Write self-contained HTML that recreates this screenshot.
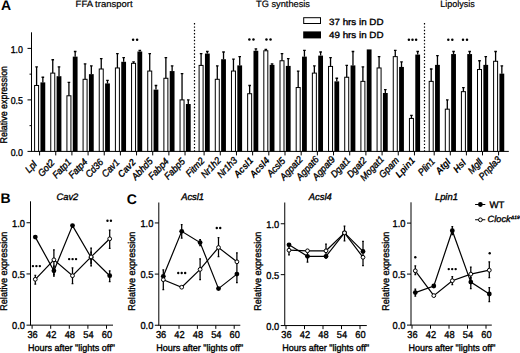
<!DOCTYPE html>
<html><head><meta charset="utf-8"><style>
html,body{margin:0;padding:0;background:#fff;width:520px;height:353px;overflow:hidden}
text{font-family:"Liberation Sans", sans-serif;stroke:#000;stroke-width:0.35px;text-rendering:geometricPrecision}
text.nb{stroke-width:0}
text.lt{stroke-width:0.2px}
text.bl{stroke-width:0.1px}
</style></head><body>
<svg xmlns="http://www.w3.org/2000/svg" width="520" height="353" viewBox="0 0 520 353" style="display:block">
<rect width="520" height="353" fill="#fff"/>
<g font-family='"Liberation Sans", sans-serif' fill="#000">
<text x="1" y="10.2" font-size="14" font-weight="bold" class="nb">A</text>
<text x="75.6" y="6.5" font-size="9.2" textLength="57" lengthAdjust="spacingAndGlyphs" class="lt">FFA transport</text>
<text x="256" y="6.5" font-size="9.2" textLength="54" lengthAdjust="spacingAndGlyphs" class="lt">TG synthesis</text>
<text x="440.2" y="6.5" font-size="9.2" textLength="34.5" lengthAdjust="spacingAndGlyphs" class="lt">Lipolysis</text>
<rect x="303.7" y="17.7" width="16.8" height="5.8" fill="#fff" stroke="#000" stroke-width="1"/>
<rect x="303.2" y="31.4" width="17.8" height="7" fill="#000"/>
<text x="329" y="24.6" font-size="9" textLength="54.5" lengthAdjust="spacingAndGlyphs">37 hrs in DD</text>
<text x="329" y="38.4" font-size="9" textLength="54.5" lengthAdjust="spacingAndGlyphs">49 hrs in DD</text>
<text transform="translate(6.5,104.7) rotate(-90)" text-anchor="middle" font-size="9.8" textLength="77.5" lengthAdjust="spacingAndGlyphs">Relative expression</text>
<text x="23" y="52.8" text-anchor="end" font-size="9.9" textLength="12.3" lengthAdjust="spacingAndGlyphs">1.0</text>
<text x="23" y="104.3" text-anchor="end" font-size="9.9" textLength="12.3" lengthAdjust="spacingAndGlyphs">0.5</text>
<text x="23" y="155.8" text-anchor="end" font-size="9.9" textLength="12.3" lengthAdjust="spacingAndGlyphs">0.0</text>
</g>
<g stroke="#000" stroke-width="1" fill="none">
<path d="M31.5 32.3V151.4"/>
<path d="M31 151.4H508.8"/>
<path d="M27.5 48.4H31.5"/>
<path d="M27.5 99.9H31.5"/>
<path d="M27.5 151.4H31.5"/>
<path d="M29.5 74.15H31.5"/>
<path d="M29.5 125.65H31.5"/>
<path d="M39.6 151.4V155.4"/>
<path d="M55.76 151.4V155.4"/>
<path d="M71.92 151.4V155.4"/>
<path d="M88.08 151.4V155.4"/>
<path d="M104.24 151.4V155.4"/>
<path d="M120.4 151.4V155.4"/>
<path d="M136.56 151.4V155.4"/>
<path d="M152.72 151.4V155.4"/>
<path d="M168.88 151.4V155.4"/>
<path d="M185.04 151.4V155.4"/>
<path d="M204.1 151.4V155.4"/>
<path d="M220.28 151.4V155.4"/>
<path d="M236.46 151.4V155.4"/>
<path d="M252.64 151.4V155.4"/>
<path d="M268.82 151.4V155.4"/>
<path d="M285 151.4V155.4"/>
<path d="M301.18 151.4V155.4"/>
<path d="M317.36 151.4V155.4"/>
<path d="M333.54 151.4V155.4"/>
<path d="M349.72 151.4V155.4"/>
<path d="M365.9 151.4V155.4"/>
<path d="M382.08 151.4V155.4"/>
<path d="M398.26 151.4V155.4"/>
<path d="M414.44 151.4V155.4"/>
<path d="M434.2 151.4V155.4"/>
<path d="M450.3 151.4V155.4"/>
<path d="M466.4 151.4V155.4"/>
<path d="M482.5 151.4V155.4"/>
<path d="M498.6 151.4V155.4"/>
</g>
<g stroke="#000" stroke-width="1.2" stroke-dasharray="1.45 1.9">
<path d="M194.5 23.05V151.4"/>
<path d="M424.5 23.05V151.4"/>
</g>
<g stroke="#000" stroke-width="1">
<rect x="34.6" y="85.48" width="4.0" height="65.92" fill="#fff"/>
<path d="M36.6 85.48V66.94M35.3 66.94H37.9" fill="none" stroke-width="1.3"/>
<rect x="40.45" y="82.39" width="4.8" height="69.01" fill="#000" stroke="none"/>
<path d="M42.85 82.39V77.24M41.55 77.24H44.15" fill="none" stroke-width="1.3"/>
<rect x="50.76" y="73.12" width="4.0" height="78.28" fill="#fff"/>
<path d="M52.76 73.12V59.73M51.46 59.73H54.06" fill="none" stroke-width="1.3"/>
<rect x="56.61" y="76.21" width="4.8" height="75.19" fill="#000" stroke="none"/>
<path d="M59.01 76.21V66.94M57.71 66.94H60.31" fill="none" stroke-width="1.3"/>
<rect x="66.92" y="95.78" width="4.0" height="55.62" fill="#fff"/>
<path d="M68.92 95.78V82.39M67.62 82.39H70.22" fill="none" stroke-width="1.3"/>
<rect x="72.77" y="56.64" width="4.8" height="94.76" fill="#000" stroke="none"/>
<path d="M75.17 56.64V51.49M73.87 51.49H76.47" fill="none" stroke-width="1.3"/>
<rect x="83.08" y="79.3" width="4.0" height="72.1" fill="#fff"/>
<path d="M85.08 79.3V63.85M83.78 63.85H86.38" fill="none" stroke-width="1.3"/>
<rect x="88.93" y="74.15" width="4.8" height="77.25" fill="#000" stroke="none"/>
<path d="M91.33 74.15V65.91M90.03 65.91H92.63" fill="none" stroke-width="1.3"/>
<rect x="99.24" y="69" width="4.0" height="82.4" fill="#fff"/>
<path d="M101.24 69V58.7M99.94 58.7H102.54" fill="none" stroke-width="1.3"/>
<rect x="105.09" y="83.42" width="4.8" height="67.98" fill="#000" stroke="none"/>
<path d="M107.49 83.42V80.33M106.19 80.33H108.79" fill="none" stroke-width="1.3"/>
<rect x="115.4" y="67.97" width="4.0" height="83.43" fill="#fff"/>
<path d="M117.4 67.97V53.55M116.1 53.55H118.7" fill="none" stroke-width="1.3"/>
<rect x="121.25" y="61.79" width="4.8" height="89.61" fill="#000" stroke="none"/>
<path d="M123.65 61.79V57.67M122.35 57.67H124.95" fill="none" stroke-width="1.3"/>
<rect x="131.56" y="63.34" width="4.0" height="88.06" fill="#fff"/>
<path d="M133.56 63.34V61.79M132.26 61.79H134.86" fill="none" stroke-width="1.3"/>
<rect x="137.41" y="51.49" width="4.8" height="99.91" fill="#000" stroke="none"/>
<path d="M139.81 51.49V50.46M138.51 50.46H141.11" fill="none" stroke-width="1.3"/>
<rect x="147.72" y="71.06" width="4.0" height="80.34" fill="#fff"/>
<path d="M149.72 71.06V53.55M148.42 53.55H151.02" fill="none" stroke-width="1.3"/>
<rect x="153.57" y="89.6" width="4.8" height="61.8" fill="#000" stroke="none"/>
<path d="M155.97 89.6V85.48M154.67 85.48H157.27" fill="none" stroke-width="1.3"/>
<rect x="163.88" y="78.27" width="4.0" height="73.13" fill="#fff"/>
<path d="M165.88 78.27V57.67M164.58 57.67H167.18" fill="none" stroke-width="1.3"/>
<rect x="169.73" y="71.06" width="4.8" height="80.34" fill="#000" stroke="none"/>
<path d="M172.13 71.06V65.91M170.83 65.91H173.43" fill="none" stroke-width="1.3"/>
<rect x="180.04" y="99.9" width="4.0" height="51.5" fill="#fff"/>
<path d="M182.04 99.9V73.64M180.74 73.64H183.34" fill="none" stroke-width="1.3"/>
<rect x="185.89" y="104.02" width="4.8" height="47.38" fill="#000" stroke="none"/>
<path d="M188.29 104.02V99.9M186.99 99.9H189.59" fill="none" stroke-width="1.3"/>
<rect x="199.1" y="65.4" width="4.0" height="86" fill="#fff"/>
<path d="M201.1 65.4V53.55M199.8 53.55H202.4" fill="none" stroke-width="1.3"/>
<rect x="204.95" y="53.55" width="4.8" height="97.85" fill="#000" stroke="none"/>
<path d="M207.35 53.55V51.49M206.05 51.49H208.65" fill="none" stroke-width="1.3"/>
<rect x="215.28" y="79.3" width="4.0" height="72.1" fill="#fff"/>
<path d="M217.28 79.3V65.91M215.98 65.91H218.58" fill="none" stroke-width="1.3"/>
<rect x="221.13" y="59.22" width="4.8" height="92.19" fill="#000" stroke="none"/>
<path d="M223.53 59.22V52.01M222.23 52.01H224.83" fill="none" stroke-width="1.3"/>
<rect x="231.46" y="71.06" width="4.0" height="80.34" fill="#fff"/>
<path d="M233.46 71.06V59.22M232.16 59.22H234.76" fill="none" stroke-width="1.3"/>
<rect x="237.31" y="65.4" width="4.8" height="86" fill="#000" stroke="none"/>
<path d="M239.71 65.4V56.64M238.41 56.64H241.01" fill="none" stroke-width="1.3"/>
<rect x="247.64" y="93.72" width="4.0" height="57.68" fill="#fff"/>
<path d="M249.64 93.72V85.48M248.34 85.48H250.94" fill="none" stroke-width="1.3"/>
<rect x="253.49" y="50.77" width="4.8" height="100.63" fill="#000" stroke="none"/>
<path d="M255.89 50.77V48.92M254.59 48.92H257.19" fill="none" stroke-width="1.3"/>
<rect x="263.82" y="50.77" width="4.0" height="100.63" fill="#fff"/>
<path d="M265.82 50.77V49.43M264.52 49.43H267.12" fill="none" stroke-width="1.3"/>
<rect x="269.67" y="64.88" width="4.8" height="86.52" fill="#000" stroke="none"/>
<path d="M272.07 64.88V63.85M270.77 63.85H273.37" fill="none" stroke-width="1.3"/>
<rect x="280" y="60.76" width="4.0" height="90.64" fill="#fff"/>
<path d="M282 60.76V53.55M280.7 53.55H283.3" fill="none" stroke-width="1.3"/>
<rect x="285.85" y="65.91" width="4.8" height="85.49" fill="#000" stroke="none"/>
<path d="M288.25 65.91V58.7M286.95 58.7H289.55" fill="none" stroke-width="1.3"/>
<rect x="296.18" y="87.54" width="4.0" height="63.86" fill="#fff"/>
<path d="M298.18 87.54V71.06M296.88 71.06H299.48" fill="none" stroke-width="1.3"/>
<rect x="302.03" y="56.64" width="4.8" height="94.76" fill="#000" stroke="none"/>
<path d="M304.43 56.64V50.46M303.13 50.46H305.73" fill="none" stroke-width="1.3"/>
<rect x="312.36" y="73.12" width="4.0" height="78.28" fill="#fff"/>
<path d="M314.36 73.12V65.91M313.06 65.91H315.66" fill="none" stroke-width="1.3"/>
<rect x="318.21" y="55.61" width="4.8" height="95.79" fill="#000" stroke="none"/>
<path d="M320.61 55.61V52.01M319.31 52.01H321.91" fill="none" stroke-width="1.3"/>
<rect x="328.54" y="66.43" width="4.0" height="84.97" fill="#fff"/>
<path d="M330.54 66.43V57.67M329.24 57.67H331.84" fill="none" stroke-width="1.3"/>
<rect x="334.39" y="81.36" width="4.8" height="70.04" fill="#000" stroke="none"/>
<path d="M336.79 81.36V78.27M335.49 78.27H338.09" fill="none" stroke-width="1.3"/>
<rect x="344.72" y="77.24" width="4.0" height="74.16" fill="#fff"/>
<path d="M346.72 77.24V65.4M345.42 65.4H348.02" fill="none" stroke-width="1.3"/>
<rect x="350.57" y="65.4" width="4.8" height="86" fill="#000" stroke="none"/>
<path d="M352.97 65.4V51.49M351.67 51.49H354.27" fill="none" stroke-width="1.3"/>
<rect x="360.9" y="81.36" width="4.0" height="70.04" fill="#fff"/>
<path d="M362.9 81.36V66.94M361.6 66.94H364.2" fill="none" stroke-width="1.3"/>
<rect x="366.75" y="49.43" width="4.8" height="101.97" fill="#000" stroke="none"/>
<rect x="377.08" y="67.97" width="4.0" height="83.43" fill="#fff"/>
<path d="M379.08 67.97V56.64M377.78 56.64H380.38" fill="none" stroke-width="1.3"/>
<rect x="382.93" y="93" width="4.8" height="58.4" fill="#000" stroke="none"/>
<path d="M385.33 93V89.6M384.03 89.6H386.63" fill="none" stroke-width="1.3"/>
<rect x="393.26" y="56.64" width="4.0" height="94.76" fill="#fff"/>
<path d="M395.26 56.64V50.46M393.96 50.46H396.56" fill="none" stroke-width="1.3"/>
<rect x="399.11" y="66.94" width="4.8" height="84.46" fill="#000" stroke="none"/>
<path d="M401.51 66.94V61.79M400.21 61.79H402.81" fill="none" stroke-width="1.3"/>
<rect x="409.44" y="118.44" width="4.0" height="32.96" fill="#fff"/>
<path d="M411.44 118.44V115.35M410.14 115.35H412.74" fill="none" stroke-width="1.3"/>
<rect x="415.29" y="54.58" width="4.8" height="96.82" fill="#000" stroke="none"/>
<path d="M417.69 54.58V51.49M416.39 51.49H418.99" fill="none" stroke-width="1.3"/>
<rect x="429.2" y="81.36" width="4.0" height="70.04" fill="#fff"/>
<path d="M431.2 81.36V69M429.9 69H432.5" fill="none" stroke-width="1.3"/>
<rect x="435.05" y="64.88" width="4.8" height="86.52" fill="#000" stroke="none"/>
<path d="M437.45 64.88V55.61M436.15 55.61H438.75" fill="none" stroke-width="1.3"/>
<rect x="445.3" y="109.17" width="4.0" height="42.23" fill="#fff"/>
<path d="M447.3 109.17V99.9M446 99.9H448.6" fill="none" stroke-width="1.3"/>
<rect x="451.15" y="54.07" width="4.8" height="97.33" fill="#000" stroke="none"/>
<path d="M453.55 54.07V51.49M452.25 51.49H454.85" fill="none" stroke-width="1.3"/>
<rect x="461.4" y="91.66" width="4.0" height="59.74" fill="#fff"/>
<path d="M463.4 91.66V87.54M462.1 87.54H464.7" fill="none" stroke-width="1.3"/>
<rect x="467.25" y="54.07" width="4.8" height="97.33" fill="#000" stroke="none"/>
<path d="M469.65 54.07V51.49M468.35 51.49H470.95" fill="none" stroke-width="1.3"/>
<rect x="477.5" y="69.52" width="4.0" height="81.89" fill="#fff"/>
<path d="M479.5 69.52V60.76M478.2 60.76H480.8" fill="none" stroke-width="1.3"/>
<rect x="483.35" y="64.88" width="4.8" height="86.52" fill="#000" stroke="none"/>
<path d="M485.75 64.88V56.64M484.45 56.64H487.05" fill="none" stroke-width="1.3"/>
<rect x="493.6" y="61.28" width="4.0" height="90.12" fill="#fff"/>
<path d="M495.6 61.28V51.49M494.3 51.49H496.9" fill="none" stroke-width="1.3"/>
<rect x="499.45" y="73.64" width="4.8" height="77.77" fill="#000" stroke="none"/>
<path d="M501.85 73.64V65.91M500.55 65.91H503.15" fill="none" stroke-width="1.3"/>
</g>
<g fill="#000">
<circle cx="133.1" cy="39.7" r="1.25"/><circle cx="137.1" cy="39.7" r="1.25"/>
<circle cx="249.35" cy="39.6" r="1.25"/><circle cx="253.45" cy="39.6" r="1.25"/>
<circle cx="266.45" cy="39.6" r="1.25"/><circle cx="270.55" cy="39.6" r="1.25"/>
<circle cx="408.9" cy="39.7" r="1.25"/><circle cx="412.5" cy="39.7" r="1.25"/><circle cx="416.1" cy="39.7" r="1.25"/>
<circle cx="448.3" cy="39.7" r="1.25"/><circle cx="452.3" cy="39.7" r="1.25"/>
<circle cx="463" cy="39.7" r="1.25"/><circle cx="467" cy="39.7" r="1.25"/>
</g>
<g font-family='"Liberation Sans", sans-serif' font-style="italic" font-size="9.7">
<text text-anchor="end" transform="translate(37.39,164.78) rotate(-47) scale(0.92,1)">Lpl</text>
<text text-anchor="end" transform="translate(55.07,163.15) rotate(-47) scale(0.92,1)">Got2</text>
<text text-anchor="end" transform="translate(71.94,162.38) rotate(-47) scale(0.92,1)">Fatp1</text>
<text text-anchor="end" transform="translate(88.1,162.38) rotate(-47) scale(0.92,1)">Fatp4</text>
<text text-anchor="end" transform="translate(103.96,162.71) rotate(-47) scale(0.92,1)">Cd36</text>
<text text-anchor="end" transform="translate(120.02,162.82) rotate(-47) scale(0.92,1)">Cav1</text>
<text text-anchor="end" transform="translate(136.28,162.71) rotate(-47) scale(0.92,1)" font-weight="bold" class="bl">Cav2</text>
<text text-anchor="end" transform="translate(153.35,161.73) rotate(-47) scale(0.92,1)">Abhd5</text>
<text text-anchor="end" transform="translate(169.41,161.84) rotate(-47) scale(0.92,1)">Fabp4</text>
<text text-anchor="end" transform="translate(185.57,161.84) rotate(-47) scale(0.92,1)">Fabp5</text>
<text text-anchor="end" transform="translate(205.02,161.3) rotate(-47) scale(0.92,1)">Fitm2</text>
<text text-anchor="end" transform="translate(221.61,160.86) rotate(-47) scale(0.92,1)">Nr1h2</text>
<text text-anchor="end" transform="translate(237.79,160.86) rotate(-47) scale(0.92,1)">Nr1h3</text>
<text text-anchor="end" transform="translate(253.87,160.97) rotate(-47) scale(0.92,1)" font-weight="bold" class="bl">Acsl1</text>
<text text-anchor="end" transform="translate(270.05,160.97) rotate(-47) scale(0.92,1)" font-weight="bold" class="bl">Acsl4</text>
<text text-anchor="end" transform="translate(285.82,161.4) rotate(-47) scale(0.92,1)">Acsl5</text>
<text text-anchor="end" transform="translate(303.32,159.98) rotate(-47) scale(0.92,1)">Agpat2</text>
<text text-anchor="end" transform="translate(319.5,159.98) rotate(-47) scale(0.92,1)">Agpat6</text>
<text text-anchor="end" transform="translate(335.68,159.98) rotate(-47) scale(0.92,1)">Agpat9</text>
<text text-anchor="end" transform="translate(350.95,160.97) rotate(-47) scale(0.92,1)">Dgat1</text>
<text text-anchor="end" transform="translate(367.13,160.97) rotate(-47) scale(0.92,1)">Dgat2</text>
<text text-anchor="end" transform="translate(384.52,159.66) rotate(-47) scale(0.92,1)">Mogat1</text>
<text text-anchor="end" transform="translate(399.58,160.86) rotate(-47) scale(0.92,1)">Gpam</text>
<text text-anchor="end" transform="translate(415.66,160.97) rotate(-47) scale(0.92,1)" font-weight="bold" class="bl">Lpin1</text>
<text text-anchor="end" transform="translate(435.61,161.84) rotate(-47) scale(0.92,1)">Plin1</text>
<text text-anchor="end" transform="translate(451.2,162.38) rotate(-47) scale(0.92,1)" font-weight="bold" class="bl">Atgl</text>
<text text-anchor="end" transform="translate(466.59,163.14) rotate(-47) scale(0.92,1)" font-weight="bold" class="bl">Hsl</text>
<text text-anchor="end" transform="translate(483.2,162.6) rotate(-47) scale(0.92,1)">Mgll</text>
<text text-anchor="end" transform="translate(501.64,160.09) rotate(-47) scale(0.92,1)">Pnpla3</text>
</g>
<g stroke="#000" stroke-width="1" fill="none">
<path d="M30.5 201.3V325.15"/>
<path d="M30 325.15H113"/>
<path d="M26.5 222.75H30.5"/>
<path d="M26.5 273.95H30.5"/>
<path d="M26.5 325.15H30.5"/>
<path d="M32.1 325.15V328.75"/>
<path d="M50.7 325.15V328.75"/>
<path d="M69.3 325.15V328.75"/>
<path d="M87.9 325.15V328.75"/>
<path d="M106.5 325.15V328.75"/>
</g>
<g font-family='"Liberation Sans", sans-serif' fill="#000">
<text x="25" y="226.75" text-anchor="end" font-size="10" textLength="12.9" lengthAdjust="spacingAndGlyphs">1.0</text>
<text x="25" y="277.95" text-anchor="end" font-size="10" textLength="12.9" lengthAdjust="spacingAndGlyphs">0.5</text>
<text x="25" y="329.15" text-anchor="end" font-size="10" textLength="12.9" lengthAdjust="spacingAndGlyphs">0.0</text>
<text x="32.6" y="337.6" text-anchor="middle" font-size="10" textLength="10.3" lengthAdjust="spacingAndGlyphs">36</text>
<text x="51.2" y="337.6" text-anchor="middle" font-size="10" textLength="10.3" lengthAdjust="spacingAndGlyphs">42</text>
<text x="69.8" y="337.6" text-anchor="middle" font-size="10" textLength="10.3" lengthAdjust="spacingAndGlyphs">48</text>
<text x="88.4" y="337.6" text-anchor="middle" font-size="10" textLength="10.3" lengthAdjust="spacingAndGlyphs">54</text>
<text x="107" y="337.6" text-anchor="middle" font-size="10" textLength="10.3" lengthAdjust="spacingAndGlyphs">60</text>
<text x="27.9" y="350.6" font-size="9.4" textLength="87" lengthAdjust="spacingAndGlyphs">Hours after "lights off"</text>
<text transform="translate(7.1,271.2) rotate(-90)" text-anchor="middle" font-size="9.8" textLength="79" lengthAdjust="spacingAndGlyphs">Relative expression</text>
<text x="67.4" y="199.7" text-anchor="middle" font-size="9.4" font-style="italic">Cav2</text>
</g>
<g stroke="#000" stroke-width="1.25" fill="none">
<path d="M35.3 275.3V284M34.4 275.3H36.2M34.4 284H36.2"/>
<path d="M53.9 249.9V274.7M53 249.9H54.8M53 274.7H54.8"/>
<path d="M53.9 266V276M53 266H54.8M53 276H54.8"/>
<path d="M72.5 267.8V283.7M71.6 267.8H73.4M71.6 283.7H73.4"/>
<path d="M91.1 248V265.8M90.2 248H92M90.2 265.8H92"/>
<path d="M91.1 252V263M90.2 252H92M90.2 263H92"/>
<path d="M109.7 270.8V281.7M108.8 270.8H110.6M108.8 281.7H110.6"/>
<path d="M109.7 230.1V248.4M108.8 230.1H110.6M108.8 248.4H110.6"/>
</g>
<g stroke="#000" stroke-width="1.2" fill="none">
<polyline points="35.3,237.1 53.9,270.8 72.5,225.6 91.1,257.5 109.7,275.7"/>
<polyline points="35.3,279.3 53.9,259.8 72.5,275.7 91.1,256.9 109.7,238.8"/>
</g>
<g>
<circle cx="35.3" cy="237.1" r="2.4" fill="#000"/>
<circle cx="53.9" cy="270.8" r="2.4" fill="#000"/>
<circle cx="72.5" cy="225.6" r="2.4" fill="#000"/>
<circle cx="91.1" cy="257.5" r="2.4" fill="#000"/>
<circle cx="109.7" cy="275.7" r="2.4" fill="#000"/>
<circle cx="35.3" cy="279.3" r="1.9" fill="#fff" stroke="#000" stroke-width="1"/>
<circle cx="53.9" cy="259.8" r="1.9" fill="#fff" stroke="#000" stroke-width="1"/>
<circle cx="72.5" cy="275.7" r="1.9" fill="#fff" stroke="#000" stroke-width="1"/>
<circle cx="91.1" cy="256.9" r="1.9" fill="#fff" stroke="#000" stroke-width="1"/>
<circle cx="109.7" cy="238.8" r="1.9" fill="#fff" stroke="#000" stroke-width="1"/>
</g>
<g fill="#000">
<circle cx="32.95" cy="266.1" r="1.2"/><circle cx="36.4" cy="266.1" r="1.2"/><circle cx="39.85" cy="266.1" r="1.2"/>
<circle cx="69.15" cy="259.1" r="1.2"/><circle cx="72.6" cy="259.1" r="1.2"/><circle cx="76.05" cy="259.1" r="1.2"/>
<circle cx="107.48" cy="220.7" r="1.2"/><circle cx="110.93" cy="220.7" r="1.2"/>
</g>
<g stroke="#000" stroke-width="1" fill="none">
<path d="M158.8 202.5V325.25"/>
<path d="M158.3 325.25H240.3"/>
<path d="M154.8 222.95H158.8"/>
<path d="M154.8 274.1H158.8"/>
<path d="M154.8 325.25H158.8"/>
<path d="M160.6 325.25V328.85"/>
<path d="M179 325.25V328.85"/>
<path d="M197.4 325.25V328.85"/>
<path d="M215.8 325.25V328.85"/>
<path d="M234.2 325.25V328.85"/>
</g>
<g font-family='"Liberation Sans", sans-serif' fill="#000">
<text x="153.3" y="226.95" text-anchor="end" font-size="10" textLength="12.9" lengthAdjust="spacingAndGlyphs">1.0</text>
<text x="153.3" y="278.1" text-anchor="end" font-size="10" textLength="12.9" lengthAdjust="spacingAndGlyphs">0.5</text>
<text x="153.3" y="329.25" text-anchor="end" font-size="10" textLength="12.9" lengthAdjust="spacingAndGlyphs">0.0</text>
<text x="161.1" y="337.6" text-anchor="middle" font-size="10" textLength="10.3" lengthAdjust="spacingAndGlyphs">36</text>
<text x="179.5" y="337.6" text-anchor="middle" font-size="10" textLength="10.3" lengthAdjust="spacingAndGlyphs">42</text>
<text x="197.9" y="337.6" text-anchor="middle" font-size="10" textLength="10.3" lengthAdjust="spacingAndGlyphs">48</text>
<text x="216.3" y="337.6" text-anchor="middle" font-size="10" textLength="10.3" lengthAdjust="spacingAndGlyphs">54</text>
<text x="234.7" y="337.6" text-anchor="middle" font-size="10" textLength="10.3" lengthAdjust="spacingAndGlyphs">60</text>
<text x="156.2" y="350.6" font-size="9.4" textLength="87" lengthAdjust="spacingAndGlyphs">Hours after "lights off"</text>
<text transform="translate(134.6,271.2) rotate(-90)" text-anchor="middle" font-size="9.8" textLength="79" lengthAdjust="spacingAndGlyphs">Relative expression</text>
<text x="192.6" y="199.7" text-anchor="middle" font-size="9.4" font-style="italic">Acsl1</text>
</g>
<g stroke="#000" stroke-width="1.25" fill="none">
<path d="M163.3 269.8V289.6M162.4 269.8H164.2M162.4 289.6H164.2"/>
<path d="M181.7 224.7V238M180.8 224.7H182.6M180.8 238H182.6"/>
<path d="M200.1 258.8V279.7M199.2 258.8H201M199.2 279.7H201"/>
<path d="M200.1 239.5V245.5M199.2 239.5H201M199.2 245.5H201"/>
<path d="M218.5 237.6V256.5M217.6 237.6H219.4M217.6 256.5H219.4"/>
<path d="M236.9 252.9V282.7M236 252.9H237.8M236 282.7H237.8"/>
</g>
<g stroke="#000" stroke-width="1.2" fill="none">
<polyline points="163.3,276.3 181.7,231.3 200.1,242.6 218.5,288.6 236.9,274.1"/>
<polyline points="163.3,279.7 181.7,287.2 200.1,269.4 218.5,247.5 236.9,261.8"/>
</g>
<g>
<circle cx="163.3" cy="276.3" r="2.4" fill="#000"/>
<circle cx="181.7" cy="231.3" r="2.4" fill="#000"/>
<circle cx="200.1" cy="242.6" r="2.4" fill="#000"/>
<circle cx="218.5" cy="288.6" r="2.4" fill="#000"/>
<circle cx="236.9" cy="274.1" r="2.4" fill="#000"/>
<circle cx="163.3" cy="279.7" r="1.9" fill="#fff" stroke="#000" stroke-width="1"/>
<circle cx="181.7" cy="287.2" r="1.9" fill="#fff" stroke="#000" stroke-width="1"/>
<circle cx="200.1" cy="269.4" r="1.9" fill="#fff" stroke="#000" stroke-width="1"/>
<circle cx="218.5" cy="247.5" r="1.9" fill="#fff" stroke="#000" stroke-width="1"/>
<circle cx="236.9" cy="261.8" r="1.9" fill="#fff" stroke="#000" stroke-width="1"/>
</g>
<g fill="#000">
<circle cx="178.25" cy="273" r="1.2"/><circle cx="181.7" cy="273" r="1.2"/><circle cx="185.15" cy="273" r="1.2"/>
<circle cx="216.78" cy="228" r="1.2"/><circle cx="220.22" cy="228" r="1.2"/>
</g>
<g stroke="#000" stroke-width="1" fill="none">
<path d="M284.75 202.5V325.55"/>
<path d="M284.25 325.55H366.8"/>
<path d="M280.75 223.75H284.75"/>
<path d="M280.75 274.65H284.75"/>
<path d="M280.75 325.55H284.75"/>
<path d="M286 325.55V329.15"/>
<path d="M304.5 325.55V329.15"/>
<path d="M323 325.55V329.15"/>
<path d="M341.5 325.55V329.15"/>
<path d="M360 325.55V329.15"/>
</g>
<g font-family='"Liberation Sans", sans-serif' fill="#000">
<text x="279.25" y="227.75" text-anchor="end" font-size="10" textLength="12.9" lengthAdjust="spacingAndGlyphs">1.0</text>
<text x="279.25" y="278.65" text-anchor="end" font-size="10" textLength="12.9" lengthAdjust="spacingAndGlyphs">0.5</text>
<text x="279.25" y="329.55" text-anchor="end" font-size="10" textLength="12.9" lengthAdjust="spacingAndGlyphs">0.0</text>
<text x="286.5" y="337.6" text-anchor="middle" font-size="10" textLength="10.3" lengthAdjust="spacingAndGlyphs">36</text>
<text x="305" y="337.6" text-anchor="middle" font-size="10" textLength="10.3" lengthAdjust="spacingAndGlyphs">42</text>
<text x="323.5" y="337.6" text-anchor="middle" font-size="10" textLength="10.3" lengthAdjust="spacingAndGlyphs">48</text>
<text x="342" y="337.6" text-anchor="middle" font-size="10" textLength="10.3" lengthAdjust="spacingAndGlyphs">54</text>
<text x="360.5" y="337.6" text-anchor="middle" font-size="10" textLength="10.3" lengthAdjust="spacingAndGlyphs">60</text>
<text x="282.15" y="350.6" font-size="9.4" textLength="87" lengthAdjust="spacingAndGlyphs">Hours after "lights off"</text>
<text transform="translate(261.4,271.2) rotate(-90)" text-anchor="middle" font-size="9.8" textLength="79" lengthAdjust="spacingAndGlyphs">Relative expression</text>
<text x="320.3" y="199.7" text-anchor="middle" font-size="9.4" font-style="italic">Acsl4</text>
</g>
<g stroke="#000" stroke-width="1.25" fill="none">
<path d="M289 247.8V254.8M288.1 247.8H289.9M288.1 254.8H289.9"/>
<path d="M307.5 250V262M306.6 250H308.4M306.6 262H308.4"/>
<path d="M326 244.2V258M325.1 244.2H326.9M325.1 258H326.9"/>
<path d="M344.5 226V240.9M343.6 226H345.4M343.6 240.9H345.4"/>
<path d="M363 241.3V265.7M362.1 241.3H363.9M362.1 265.7H363.9"/>
</g>
<g stroke="#000" stroke-width="1.2" fill="none">
<polyline points="289,244.8 307.5,256.3 326,256.3 344.5,232.9 363,251.4"/>
<polyline points="289,250.2 307.5,250.8 326,250.8 344.5,232.9 363,257.3"/>
</g>
<g>
<circle cx="289" cy="244.8" r="2.4" fill="#000"/>
<circle cx="307.5" cy="256.3" r="2.4" fill="#000"/>
<circle cx="326" cy="256.3" r="2.4" fill="#000"/>
<circle cx="344.5" cy="232.9" r="2.4" fill="#000"/>
<circle cx="363" cy="251.4" r="2.4" fill="#000"/>
<circle cx="289" cy="250.2" r="1.9" fill="#fff" stroke="#000" stroke-width="1"/>
<circle cx="307.5" cy="250.8" r="1.9" fill="#fff" stroke="#000" stroke-width="1"/>
<circle cx="326" cy="250.8" r="1.9" fill="#fff" stroke="#000" stroke-width="1"/>
<circle cx="344.5" cy="232.9" r="1.9" fill="#fff" stroke="#000" stroke-width="1"/>
<circle cx="363" cy="257.3" r="1.9" fill="#fff" stroke="#000" stroke-width="1"/>
</g>
<g fill="#000">
</g>
<g stroke="#000" stroke-width="1" fill="none">
<path d="M411 202.3V325.1"/>
<path d="M410.5 325.1H491.8"/>
<path d="M407 223.1H411"/>
<path d="M407 274.1H411"/>
<path d="M407 325.1H411"/>
<path d="M412 325.1V328.7"/>
<path d="M430.5 325.1V328.7"/>
<path d="M449 325.1V328.7"/>
<path d="M467.5 325.1V328.7"/>
<path d="M486 325.1V328.7"/>
</g>
<g font-family='"Liberation Sans", sans-serif' fill="#000">
<text x="405.5" y="227.1" text-anchor="end" font-size="10" textLength="12.9" lengthAdjust="spacingAndGlyphs">1.0</text>
<text x="405.5" y="278.1" text-anchor="end" font-size="10" textLength="12.9" lengthAdjust="spacingAndGlyphs">0.5</text>
<text x="405.5" y="329.1" text-anchor="end" font-size="10" textLength="12.9" lengthAdjust="spacingAndGlyphs">0.0</text>
<text x="412.5" y="337.6" text-anchor="middle" font-size="10" textLength="10.3" lengthAdjust="spacingAndGlyphs">36</text>
<text x="431" y="337.6" text-anchor="middle" font-size="10" textLength="10.3" lengthAdjust="spacingAndGlyphs">42</text>
<text x="449.5" y="337.6" text-anchor="middle" font-size="10" textLength="10.3" lengthAdjust="spacingAndGlyphs">48</text>
<text x="468" y="337.6" text-anchor="middle" font-size="10" textLength="10.3" lengthAdjust="spacingAndGlyphs">54</text>
<text x="486.5" y="337.6" text-anchor="middle" font-size="10" textLength="10.3" lengthAdjust="spacingAndGlyphs">60</text>
<text x="408.4" y="350.6" font-size="9.4" textLength="87" lengthAdjust="spacingAndGlyphs">Hours after "lights off"</text>
<text transform="translate(388.5,271.2) rotate(-90)" text-anchor="middle" font-size="9.8" textLength="79" lengthAdjust="spacingAndGlyphs">Relative expression</text>
<text x="446.4" y="199.7" text-anchor="middle" font-size="9.4" font-style="italic">Lpin1</text>
</g>
<g stroke="#000" stroke-width="1.25" fill="none">
<path d="M415.3 265.8V274.7M414.4 265.8H416.2M414.4 274.7H416.2"/>
<path d="M415.3 289V296M414.4 289H416.2M414.4 296H416.2"/>
<path d="M452.3 226.7V234.7M451.4 226.7H453.2M451.4 234.7H453.2"/>
<path d="M452.3 276.7V284.7M451.4 276.7H453.2M451.4 284.7H453.2"/>
<path d="M470.8 267V281M469.9 267H471.7M469.9 281H471.7"/>
<path d="M470.8 277.7V288.6M469.9 277.7H471.7M469.9 288.6H471.7"/>
<path d="M489.3 261.8V277.7M488.4 261.8H490.2M488.4 277.7H490.2"/>
<path d="M489.3 287.6V301.5M488.4 287.6H490.2M488.4 301.5H490.2"/>
</g>
<g stroke="#000" stroke-width="1.2" fill="none">
<polyline points="415.3,292.6 433.8,286 452.3,230.7 470.8,282.1 489.3,294"/>
<polyline points="415.3,270.8 433.8,295.6 452.3,280.7 470.8,274.1 489.3,270.2"/>
</g>
<g>
<circle cx="415.3" cy="292.6" r="2.4" fill="#000"/>
<circle cx="433.8" cy="286" r="2.4" fill="#000"/>
<circle cx="452.3" cy="230.7" r="2.4" fill="#000"/>
<circle cx="470.8" cy="282.1" r="2.4" fill="#000"/>
<circle cx="489.3" cy="294" r="2.4" fill="#000"/>
<circle cx="415.3" cy="270.8" r="1.9" fill="#fff" stroke="#000" stroke-width="1"/>
<circle cx="433.8" cy="295.6" r="1.9" fill="#fff" stroke="#000" stroke-width="1"/>
<circle cx="452.3" cy="280.7" r="1.9" fill="#fff" stroke="#000" stroke-width="1"/>
<circle cx="470.8" cy="274.1" r="1.9" fill="#fff" stroke="#000" stroke-width="1"/>
<circle cx="489.3" cy="270.2" r="1.9" fill="#fff" stroke="#000" stroke-width="1"/>
</g>
<g fill="#000">
<circle cx="415.3" cy="257.2" r="1.2"/>
<circle cx="448.75" cy="269.1" r="1.2"/><circle cx="452.2" cy="269.1" r="1.2"/><circle cx="455.65" cy="269.1" r="1.2"/>
<circle cx="489.7" cy="253.2" r="1.2"/>
</g>
<g font-family='"Liberation Sans", sans-serif' font-weight="bold" font-size="14" fill="#000">
<text x="0.6" y="203.4" class="nb">B</text>
<text x="126.8" y="203.6" class="nb">C</text>
</g>
<g stroke="#000" stroke-width="1.1" fill="none"><path d="M475.1 204.5H485.3M475.1 219.8H485.3"/></g>
<circle cx="480.4" cy="204.5" r="2.4" fill="#000"/>
<circle cx="480.4" cy="219.8" r="1.9" fill="#fff" stroke="#000" stroke-width="1"/>
<g font-family='"Liberation Sans", sans-serif' fill="#000">
<text x="489.5" y="207.7" font-size="9.6">WT</text>
<text x="487.6" y="222.1" font-size="9" font-style="italic" textLength="23" lengthAdjust="spacingAndGlyphs">Clock</text>
<text x="511" y="218.9" font-size="4.8" font-style="italic">Δ19</text>
</g>
</svg>
</body></html>
